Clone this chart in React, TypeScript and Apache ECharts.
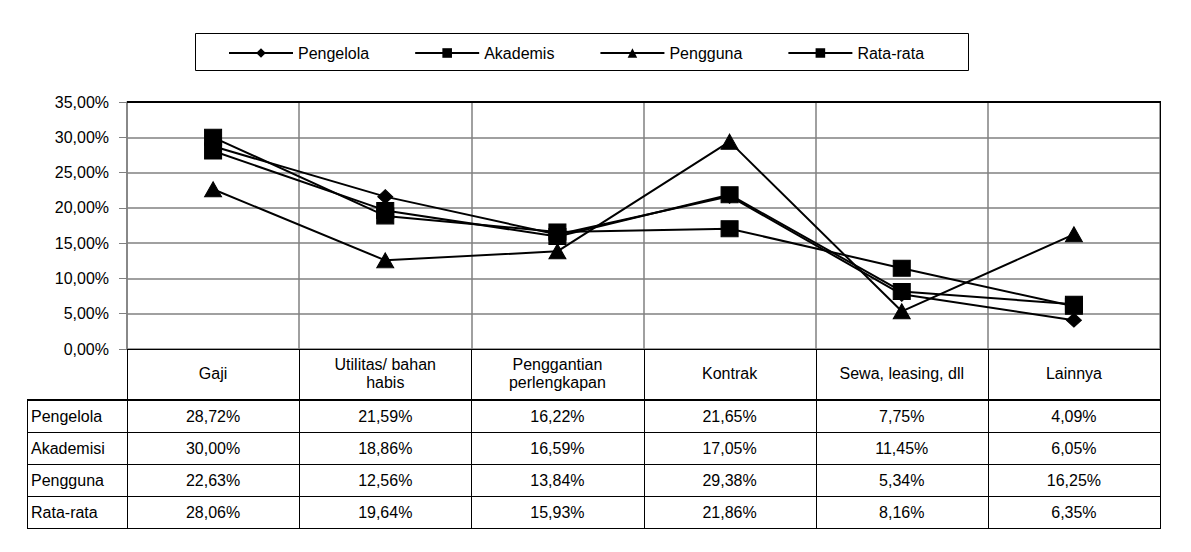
import React, { useEffect, useRef } from "react";
import * as echarts from "echarts";

const categories = ["Gaji", "Utilitas/ bahan\nhabis", "Penggantian\nperlengkapan", "Kontrak", "Sewa, leasing, dll", "Lainnya"];
const legendNames = ["Pengelola", "Akademis", "Pengguna", "Rata-rata"];
const rowLabels = ["Pengelola", "Akademisi", "Pengguna", "Rata-rata"];
const pengelola = [28.72, 21.59, 16.22, 21.65, 7.75, 4.09];
const akademisi = [30.0, 18.86, 16.59, 17.05, 11.45, 6.05];
const pengguna = [22.63, 12.56, 13.84, 29.38, 5.34, 16.25];
const rataRata = [28.06, 19.64, 15.93, 21.86, 8.16, 6.35];
const symbols = ["diamond", "rect", "triangle", "rect"];
const symbolSizes: any[] = [[15, 14], [17, 16], [17, 15], [17, 16]];
const yMin = 0;
const yMax = 35;
const yInterval = 5;

const FONT = "'Liberation Sans', Arial, sans-serif";
const FS = 16;
const W = 1191;
const H = 552;
const GL = 127;
const GR = 1160;
const GT = 102;
const GB = 349;
const TABLE_LEFT = 27;
const HEADER_BOTTOM = 400;
const ROW_H = 32;

const fmt = (v: number) => v.toFixed(2).replace(".", ",") + "%";

export default function App() {
  const ref = useRef<HTMLDivElement>(null);
  useEffect(() => {
    if (!ref.current) return;
    const chart = echarts.init(ref.current, null, { renderer: "svg" });
    const allSeries = [pengelola, akademisi, pengguna, rataRata];
    const colW = (GR - GL) / categories.length;
    const graphics: any[] = [];
    const line = (x1: number, y1: number, x2: number, y2: number, w = 1, c = "#000") => ({
      type: "line",
      shape: { x1, y1, x2, y2 },
      style: { stroke: c, lineWidth: w },
      silent: true,
      z: 10,
    });
    // legend box
    graphics.push({
      type: "rect",
      shape: { x: 195.5, y: 33.5, width: 773, height: 37 },
      style: { fill: "none", stroke: "#000", lineWidth: 1 },
      z: 10,
    });
    const tableBottom = HEADER_BOTTOM + ROW_H * rowLabels.length;
    // plot top border
    graphics.push(line(GL, GT, GR + 1, GT, 2));
    // right border
    graphics.push(line(GR + 0.5, GT, GR + 0.5, tableBottom));
    // column separators
    for (let i = 0; i < categories.length; i++) {
      const x = Math.round(GL + i * colW) + 0.5;
      graphics.push(line(x, GB, x, tableBottom));
    }
    // left border of labels
    graphics.push(line(TABLE_LEFT + 0.5, HEADER_BOTTOM, TABLE_LEFT + 0.5, tableBottom));
    // horizontal lines
    graphics.push(line(TABLE_LEFT, HEADER_BOTTOM, GR + 1, HEADER_BOTTOM, 2));
    for (let r = 1; r <= rowLabels.length; r++) {
      const y = HEADER_BOTTOM + r * ROW_H + 0.5;
      graphics.push(line(TABLE_LEFT, y, GR + 1, y));
    }
    // texts
    rowLabels.forEach((lab, r) => {
      const cy = HEADER_BOTTOM + r * ROW_H + ROW_H / 2;
      graphics.push({
        type: "text",
        x: TABLE_LEFT + 4,
        y: cy,
        style: { text: lab, fill: "#000", font: `${FS}px ${FONT}`, textAlign: "left", textVerticalAlign: "middle" },
        z: 11,
      });
      allSeries[r].forEach((v, c) => {
        graphics.push({
          type: "text",
          x: GL + c * colW + colW / 2,
          y: cy,
          style: { text: fmt(v), fill: "#000", font: `${FS}px ${FONT}`, textAlign: "center", textVerticalAlign: "middle" },
          z: 11,
        });
      });
    });

    chart.setOption({
      animation: false,
      backgroundColor: "#fff",
      legend: {
        top: 45,
        left: 228,
        padding: 0,
        itemWidth: 64,
        itemHeight: 12,
        itemGap: 45,
        data: legendNames,
        textStyle: { fontSize: FS, color: "#000", fontFamily: FONT },
      },
      grid: { left: GL, right: W - GR, top: GT, bottom: H - GB, containLabel: false },
      xAxis: {
        type: "category",
        data: categories,
        boundaryGap: true,
        axisLine: { show: true, lineStyle: { color: "#000", width: 1 } },
        axisTick: { show: false },
        splitLine: { show: true, lineStyle: { color: "#808080", width: 1.5 } },
        axisLabel: {
          interval: 0,
          margin: 24,
          verticalAlign: "middle",
          lineHeight: 18,
          color: "#000",
          fontSize: FS,
          fontFamily: FONT,
        },
      },
      yAxis: {
        type: "value",
        min: yMin,
        max: yMax,
        interval: yInterval,
        axisLine: { show: true, lineStyle: { color: "#808080", width: 1.5 } },
        axisTick: { show: true, length: 8, lineStyle: { color: "#808080" } },
        splitLine: { show: true, lineStyle: { color: "#808080", width: 1.5 } },
        axisLabel: {
          formatter: (v: number) => fmt(v),
          color: "#000",
          fontSize: FS,
          fontFamily: FONT,
          margin: 18,
        },
      },
      series: legendNames.map((name, i) => ({
        name,
        type: "line",
        data: allSeries[i],
        symbol: symbols[i],
        symbolSize: symbolSizes[i],
        showSymbol: true,
        lineStyle: { color: "#000", width: 2 },
        itemStyle: { color: "#000", borderColor: "#000" },
        z: 3 + i,
      })),
      graphic: graphics,
    });
    return () => chart.dispose();
  }, []);
  return <div ref={ref} style={{ position: "absolute", left: 0, top: 0, width: W, height: H }} />;
}
